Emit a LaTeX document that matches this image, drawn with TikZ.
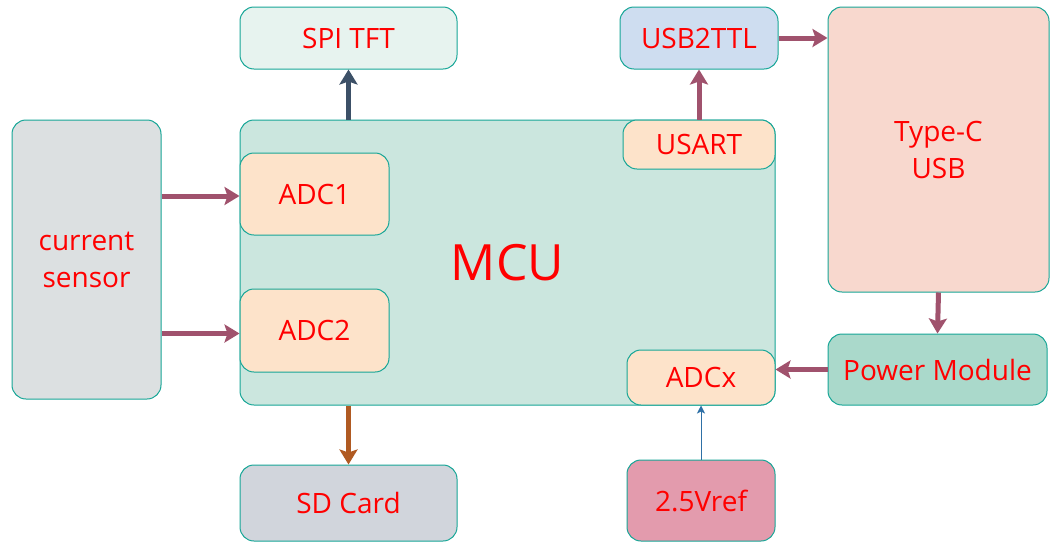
\documentclass[tikz,border=0pt]{standalone}
\usepackage{fontspec}
\setmainfont{Open Sans}
\usetikzlibrary{arrows.meta}
\definecolor{edgec}{HTML}{17A697}
\definecolor{slatec}{HTML}{3C5067}
\definecolor{mauvec}{HTML}{A0526D}
\definecolor{brownc}{HTML}{B05A22}
\definecolor{bluec}{HTML}{2E70A6}
\definecolor{fspi}{HTML}{E7F3EF}
\definecolor{fusb}{HTML}{CEDDF0}
\definecolor{ftypec}{HTML}{F8D8CE}
\definecolor{fsensor}{HTML}{DCE0E1}
\definecolor{fmcu}{HTML}{CBE6DE}
\definecolor{fadc}{HTML}{FDE3CA}
\definecolor{fpower}{HTML}{AAD9CB}
\definecolor{fsd}{HTML}{D1D5DC}
\definecolor{fvref}{HTML}{E39BAD}
\begin{document}
\begin{tikzpicture}[x=1pt,y=-1pt,
  box/.style={draw=edgec, line width=1pt, rounded corners=14pt, inner sep=0pt, align=center, text=red, font=\fontsize{28}{37}\selectfont},
  fatarrow/.style={line width=5pt, -{Stealth[width=18pt,length=15pt,inset=3pt]}},
  thinarrow/.style={line width=1pt, bluec, -{Stealth[width=8pt,length=8pt,inset=2pt]}}]
\useasboundingbox (0,0) rectangle (1061,555);
\fill[white] (0,0) rectangle (1061,555);
\node[box, fill=fspi, minimum width=217pt, minimum height=62pt] (spi) at (348.5,38) {SPI TFT};
\node[box, fill=fusb, minimum width=158pt, minimum height=62pt] (usb) at (699,38) {USB2TTL};
\node[box, fill=ftypec, minimum width=221pt, minimum height=285pt] (typec) at (938.5,149.5) {Type-C\\USB};
\node[box, fill=fsensor, minimum width=149pt, minimum height=279pt] (sensor) at (86.5,259.5) {current\\sensor};
\node[box, fill=fmcu, minimum width=535pt, minimum height=285pt, font=\fontsize{50}{60}\selectfont] (mcu) at (507.5,262.5) {MCU};
\node[box, fill=fadc, minimum width=149pt, minimum height=82pt] (adc1) at (314.5,194) {ADC1};
\node[box, fill=fadc, minimum width=149pt, minimum height=83pt] (adc2) at (314.5,330.5) {ADC2};
\node[box, fill=fadc, minimum width=152pt, minimum height=49pt] (usart) at (699,144.5) {USART};
\node[box, fill=fadc, minimum width=148pt, minimum height=55pt] (adcx) at (701,377.5) {ADCx};
\node[box, fill=fpower, minimum width=219pt, minimum height=71pt] (power) at (937.5,369.5) {Power Module};
\node[box, fill=fsd, minimum width=217pt, minimum height=76pt] (sd) at (348.5,503) {SD Card};
\node[box, fill=fvref, minimum width=148pt, minimum height=81pt] (vref) at (701,500.5) {2.5Vref};
\draw[fatarrow, slatec] (spi.south |- mcu.north) -- (spi.south);
\draw[fatarrow, mauvec] (usart.north) -- (usb.south);
\draw[fatarrow, mauvec] (usb.east) -- (usb.east -| typec.west);
\draw[fatarrow, mauvec] (typec.south) -- (power.north);
\draw[fatarrow, mauvec] (power.west) -- (power.west -| adcx.east);
\draw[fatarrow, mauvec] ([yshift=-2pt]adc1.west -| sensor.east) -- ([yshift=-2pt]adc1.west);
\draw[fatarrow, mauvec] ([yshift=-3pt]adc2.west -| sensor.east) -- ([yshift=-3pt]adc2.west);
\draw[fatarrow, brownc] (sd.north |- mcu.south) -- (sd.north);
\draw[thinarrow] (vref.north) -- (adcx.south);
\end{tikzpicture}
\end{document}
